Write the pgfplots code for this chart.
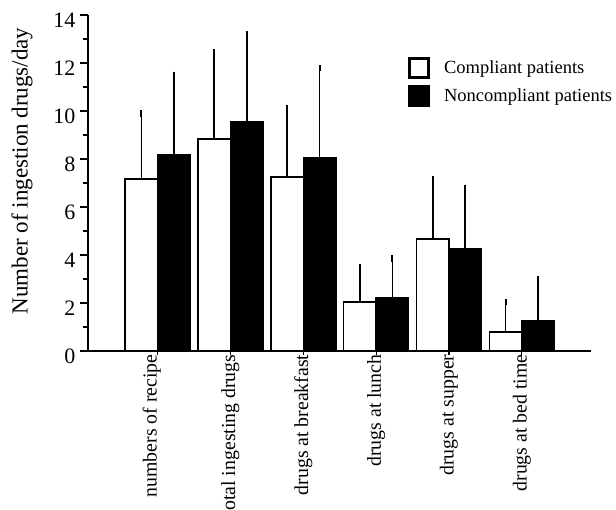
\documentclass[border=0pt]{standalone}
\usepackage{pgfplots}
\pgfplotsset{compat=1.18}
\usepackage{fontspec}
\setmainfont{Liberation Serif}

% compliant vs noncompliant: mean and SD
\pgfplotstableread{
x y e
0 7.16 2.74
1 8.84 3.63
2 7.24 2.89
3 2.04 1.45
4 4.66 2.49
5 0.79 1.24
}\compliant
\pgfplotstableread{
x y e
0 8.17 3.34
1 9.57 3.64
2 8.04 3.76
3 2.21 1.64
4 4.24 2.56
5 1.24 1.75
}\noncompliant

\begin{document}
\begin{tikzpicture}
\useasboundingbox (-88pt,-158pt) rectangle (528pt,351pt);
\begin{axis}[
  at={(0pt,0pt)}, anchor=south west,
  scale only axis, width=503pt, height=336pt,
  ybar=0pt, bar width=0.446,
  xmin=-0.957, xmax=5.95, ymin=0, ymax=14,
  clip=false,
  axis lines*=left,
  axis line style={line width=1.6pt},
  ytick={0,2,...,14}, minor y tick num=1,
  xtick={0,...,5},
  xticklabels={\raisebox{6pt}[\height][\depth]{numbers of recipe}, total ingesting drugs, drugs at breakfast, drugs at lunch, drugs at supper, drugs at bed time},
  tick align=outside,
  major tick length=8pt, minor tick length=5pt,
  tick style={line width=1.3pt, black},
  xtick style={/pgfplots/major tick length=4pt},
  /pgf/number format/assume math mode=true,
  yticklabel style={font=\fontsize{22}{26}\selectfont, yshift=-5pt, xshift=-1pt},
  xticklabel style={font=\fontsize{19.8}{23}\selectfont, yshift=8pt, rotate=90, anchor=east},
  ylabel={Number of ingestion drugs/day},
  ylabel style={font=\fontsize{23}{27}\selectfont, at={(axis description cs:-0.131,0.536)}, anchor=center},
  error bars/y dir=plus, error bars/y explicit,
  error bars/error mark=-,
  error bars/error bar style={line width=1.6pt, black},
  error bars/error mark options={line width=2pt, mark size=3.2pt, black},
  legend image code/.code={\draw[#1,/tikz/.cd,line width=3pt] (1.5pt,-9.5pt) rectangle (20.5pt,9.5pt);},
  legend style={draw=none, fill=none, at={(axis description cs:0.636,0.875)}, anchor=north west,
    font=\fontsize{18.5}{22}\selectfont, inner sep=0pt, nodes={inner sep=0pt},
    row sep=6pt, column sep=14pt},
  legend cell align=left,
]
\addplot[fill=white, draw=black, line width=1.5pt] table[x=x, y=y, y error=e] {\compliant};
\addplot[fill=black, draw=black, line width=1.5pt] table[x=x, y=y, y error=e] {\noncompliant};
\legend{Compliant patients, Noncompliant patients}
\end{axis}
\end{tikzpicture}
\end{document}
